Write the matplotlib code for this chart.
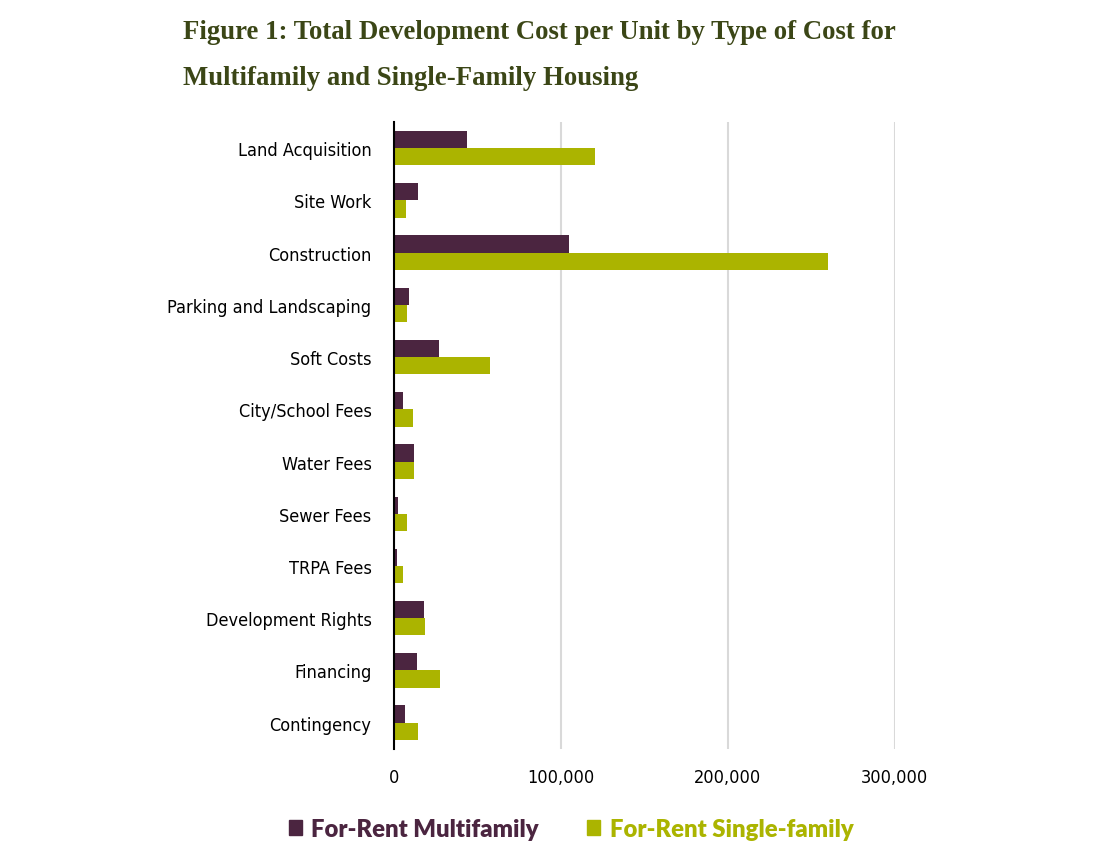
import matplotlib
matplotlib.use("Agg")
import matplotlib.pyplot as plt
from matplotlib.patches import Patch
from matplotlib.ticker import FuncFormatter
from matplotlib import font_manager
import numpy as np

categories = ["Land Acquisition", "Site Work", "Construction", "Parking and Landscaping",
              "Soft Costs", "City/School Fees", "Water Fees", "Sewer Fees", "TRPA Fees",
              "Development Rights", "Financing", "Contingency"]
multifamily = [44000, 14400, 105000, 8800, 26800, 5200, 11800, 2400, 2000, 18200, 13600, 6400]
single_family = [120500, 7200, 260000, 7600, 57800, 11200, 11900, 8000, 5600, 18800, 27400, 14400]
series_names = ["For-Rent Multifamily", "For-Rent Single-family"]
x_ticks = [0, 100000, 200000, 300000]

MF_COLOR = "#4b2540"
SF_COLOR = "#abb400"
TITLE_COLOR = "#3b4616"

names = {f.name for f in font_manager.fontManager.ttflist}
if "DejaVu Sans Condensed" in names:
    TICK_FAMILY = ["DejaVu Sans Condensed"]
    TICK_STRETCH = "normal"
else:
    TICK_FAMILY = ["DejaVu Sans"]
    TICK_STRETCH = "condensed"

fig = plt.figure(figsize=(10.94, 8.54), dpi=100)
ax = fig.add_axes([0.360, 0.122, 0.458, 0.734])

y = np.arange(len(categories))
h = 0.33
ax.barh(y - h / 2, multifamily, height=h, color=MF_COLOR, zorder=3)
ax.barh(y + h / 2, single_family, height=h, color=SF_COLOR, zorder=3)

ax.set_ylim(len(categories) - 0.5, -0.5)
ax.set_xlim(0, 300000)
ax.set_yticks(y)
ax.set_yticklabels(categories, fontfamily=TICK_FAMILY, fontstretch=TICK_STRETCH, fontsize=13)
ax.set_xticks(x_ticks)
ax.xaxis.set_major_formatter(FuncFormatter(lambda v, p: f"{int(v):,}"))
for lbl in ax.get_xticklabels():
    lbl.set_fontfamily(TICK_FAMILY)
    lbl.set_fontstretch(TICK_STRETCH)
    lbl.set_fontsize(13)
ax.tick_params(axis="both", length=0)
ax.tick_params(axis="y", pad=16)
ax.tick_params(axis="x", pad=14)

for s in ["top", "right", "bottom"]:
    ax.spines[s].set_visible(False)
ax.spines["left"].set_color("black")
ax.spines["left"].set_linewidth(1.5)
ax.spines["left"].set_zorder(4)
ax.grid(axis="x", color="#d9d9d9", linewidth=1.5, zorder=0)
ax.set_axisbelow(True)

fig.text(0.167, 0.977, "Figure 1: Total Development Cost per Unit by Type of Cost for",
         fontfamily="Liberation Serif", fontweight="bold", fontsize=19.3, color=TITLE_COLOR,
         ha="left", va="top")
fig.text(0.167, 0.923, "Multifamily and Single-Family Housing",
         fontfamily="Liberation Serif", fontweight="bold", fontsize=19.3, color=TITLE_COLOR,
         ha="left", va="top")

handles = [Patch(color=MF_COLOR), Patch(color=SF_COLOR)]
leg = fig.legend(handles, series_names, loc="center", bbox_to_anchor=(0.522, 0.028), ncol=2,
                 frameon=False, prop={"family": "Lato", "weight": "heavy", "size": 17.2},
                 handlelength=0.55, handleheight=0.55, handletextpad=0.4, columnspacing=2.0)
for t, c in zip(leg.get_texts(), [MF_COLOR, SF_COLOR]):
    t.set_color(c)

fig.savefig("out.png", dpi=100)
